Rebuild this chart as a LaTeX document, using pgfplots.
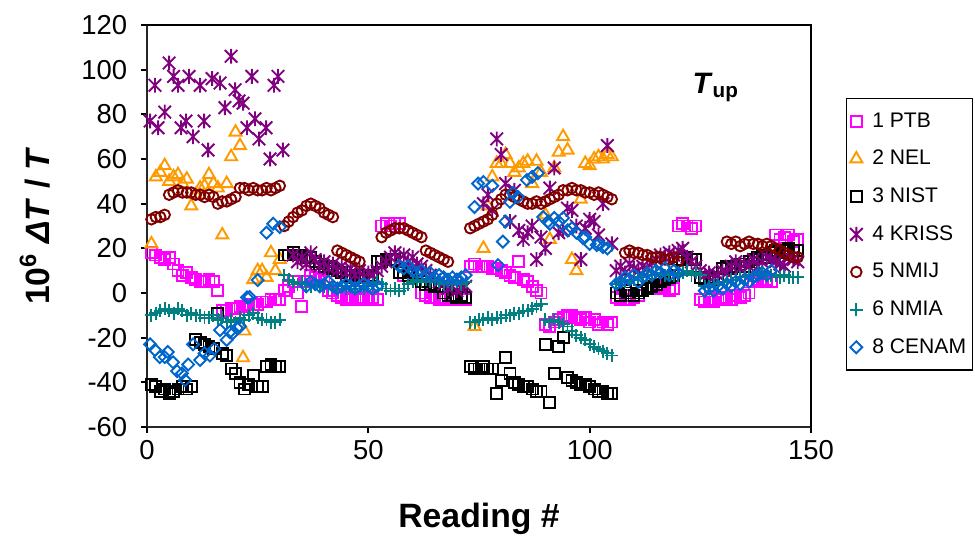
\documentclass[border=0pt]{standalone}
\usepackage{fontspec}
\setmainfont{Liberation Sans}
\usepackage{pgfplots}
\pgfplotsset{compat=1.18}
\definecolor{cPTB}{HTML}{FF00FF}
\definecolor{cNEL}{HTML}{FF9900}
\definecolor{cKRISS}{HTML}{800080}
\definecolor{cNMIJ}{HTML}{800000}
\definecolor{cNMIA}{HTML}{008080}
\definecolor{cCENAM}{HTML}{0066CC}
\pgfdeclareplotmark{kstar}{%
  \pgfpathmoveto{\pgfqpoint{0pt}{\pgfplotmarksize}}%
  \pgfpathlineto{\pgfqpoint{0pt}{-\pgfplotmarksize}}%
  \pgfpathmoveto{\pgfqpoint{-.85\pgfplotmarksize}{-.85\pgfplotmarksize}}%
  \pgfpathlineto{\pgfqpoint{.85\pgfplotmarksize}{.85\pgfplotmarksize}}%
  \pgfpathmoveto{\pgfqpoint{-.85\pgfplotmarksize}{.85\pgfplotmarksize}}%
  \pgfpathlineto{\pgfqpoint{.85\pgfplotmarksize}{-.85\pgfplotmarksize}}%
  \pgfusepathqstroke}
\begin{document}
\begin{tikzpicture}
\begin{axis}[
  scale only axis,
  width=11.0667cm, height=6.7cm,
  xmin=0, xmax=150, ymin=-60, ymax=120,
  xtick={0,50,100,150}, ytick={-60,-40,...,120},
  axis x line*=bottom, axis y line*=left,
  axis line style={line width=0.8pt, black!85, -},
  tick align=outside, major tick length=0.1cm,
  tick style={line width=0.8pt, black},
  /pgf/number format/assume math mode=true,
  ticklabel style={font=\fontsize{13}{15}\selectfont},
  yticklabel style={xshift=-3pt},
  xlabel={\textbf{Reading \#}},
  ylabel={\textbf{10\textsuperscript{6} \textit{ΔT} / \textit{T}}},
  label style={font=\fontsize{16}{18}\selectfont},
  xlabel style={at={(axis description cs:0.5,-0.228)}, anchor=center},
  ylabel style={at={(axis description cs:-0.169,0.5)}, anchor=center, rotate=0},
  clip=false,
  legend style={at={(1.0527,0.818)}, anchor=north west, draw=black, line width=0.6pt,
    font=\fontsize{10}{12}\selectfont, row sep=6.4pt, inner xsep=1.5pt, inner ysep=5pt,
    nodes={inner sep=1.5pt},
    /tikz/every odd column/.append style={column sep=3pt}},
  legend cell align=left,
  every axis plot/.append style={only marks, line width=0.9pt},
]
% 1 PTB
\addplot[mark=square, mark size=2.6pt, color=cPTB] coordinates {
(1,18)(2,17)(3,16)(4,15)(5,16)(6,13)(7,10)(8,8)(9,9)(10,7)(11,6)(12,5)(13,5)(14,6)(15,5)(16,1)
(17,-8)(18,-8)(19,-7)(20,-7)(21,-6)(22,-6)(23,-5)(24,-5)(25,-5)(26,-4)(27,-4)(28,-3)(29,-3)(30,-3)
(31,1)(32,3)(33,5)(34,0)(35,-6)(36,5)(37,8)(38,7)(39,6)(40,5)(41,1)(42,0)(43,-1)(44,-2)(45,-3)
(46,-2)(47,-3)(48,-3)(49,-2)(50,-3)(51,-2)(52,-3)(53,30)(54,31)(55,30)(56,31)(57,31)(58,8)(59,10)
(60,9)(61,8)(62,0)(63,-1)(64,-2)(65,-2)(66,-3)(67,-2)(68,-3)(69,-2)(70,-3)(71,-2)(72,-3)(73,12)(74,13)
(75,12)(76,12)(77,12)(78,11)(79,11)(80,10)(81,9)(82,8)(83,7)(84,14)(85,6)(86,5)(87,3)(88,1)(89,0)
(90,-14)(91,-15)(92,-13)(93,-12)(94,-11)(95,-10)(96,-10)(97,-11)(98,-12)(99,-11)(100,-13)(101,-12)
(102,-14)(103,-13)(104,-14)(105,-13)
(106,-2)(107,-3)(108,-1)(109,-3)(110,-2)(111,-1)(112,1)(113,2)(114,3)(115,2)(116,3)(117,2)(118,1)(119,2)
(120,30)(121,31)(122,30)(123,29)(124,30)(125,-3)(126,-4)(127,-3)(128,-4)(129,-2)(130,-3)(131,-2)
(132,-3)(133,-1)(134,-2)(135,-1)(136,0)(137,5)(138,6)(139,5)(140,6)(141,5)(142,26)(143,24)(144,25)
(145,26)(146,23)(147,24)
};
\addlegendentry{1 PTB}
% 2 NEL
\addplot[mark=triangle, mark size=3.3pt, color=cNEL] coordinates {
(1,22)(2,52)(3,54)(4,57)(5,50)(6,52)(7,53)(8,49)(9,51)(10,39)(11,44)(12,47)(13,48)(14,53)(15,49)
(16,47)(17,26)(18,49)(19,61)(20,72)(21,66)(22,-17)(21.7,-29)(24,6)(25,10)(26,10)(27,7)(28,18)(29,10)(30,15)
(74,-15)(76,20)(77,39)(78,52)(79,58)(80,58)(81,62)(82,58)(83,54)(84,56)(85,58)(86,59)(87,49)(88,59)
(89,54)(90,35)(91,24)(92,56)(93,63)(94,70)(95,64)(96,15)(97,10)(98,42)(99,58)(100,57)(101,60)
(102,61)(103,60)(104,62)(105,61)
};
\addlegendentry{2 NEL}
% 3 NIST
\addplot[mark=square, mark size=2.6pt, color=black] coordinates {
(1,-41)(2,-42)(3,-44)(4,-43)(5,-45)(6,-44)(7,-43)(8,-42)(9,-43)(10,-42)(11,-21)(12,-22)(13,-23)
(14,-24)(15,-25)(16,-9)(17,-27)(18,-28)(19,-34)(20,-36)(21,-40)(22,-43)(23,-41)(24,-37)(25,-42)
(26,-42)(27,-33)(28,-32)(29,-33)(30,-33)
(31,17)(32,17)(33,18)(34,17)(35,17)(36,16)(37,16)(38,14)(39,13)(40,12)(41,12)(42,11)(43,10)(44,9)
(45,8)(46,8)(47,7)(48,8)(49,8)(50,7)(51,8)(52,14)(53,14)(54,15)(55,15)(56,15)(57,9)(58,9)(59,8)
(60,9)(61,8)(62,5)(63,4)(64,4)(65,3)(66,3)(67,0)(68,-1)(69,-1)(70,-2)(71,-1)(72,-2)
(73,-33)(74,-34)(75,-34)(76,-33)(77,-34)(78,-34)(79,-45)(80,-39)(81,-29)(82,-36)(83,-40)(84,-41)
(85,-42)(86,-42)(87,-43)(88,-44)(89,-44)(90,-23)(91,-49)(92,-36)(93,-24)(94,-20)(95,-38)(96,-39)
(97,-40)(98,-41)(99,-41)(100,-42)(101,-43)(102,-44)(103,-44)(104,-45)(105,-45)
(106,0)(107,-1)(108,1)(109,0)(110,-1)(111,0)(112,1)(113,2)(114,3)(115,4)(116,5)(117,6)(118,7)
(119,8)(120,15)(121,15)(122,16)(123,15)(124,15)(125,7)(126,6)(127,7)(128,6)(129,7)(130,11)(131,12)
(132,11)(133,12)(134,13)(135,12)(136,14)(137,15)(138,16)(139,17)(140,16)(141,18)(142,19)(143,18)
(144,19)(145,20)(146,19)(147,19)
};
\addlegendentry{3 NIST}
% 4 KRISS
\addplot[mark=kstar, mark size=3.5pt, color=cKRISS] coordinates {
(0.7,77)(1.8,93)(2.5,74)(4,81)(5,103)(6,97)(7,93)(7.7,74)(8.8,77)(9.5,97)(10.4,70)(12,93)(12.9,77)
(13.8,64)(14.7,96)(16.5,94)(17.6,83)(19,106)(19.9,91)(20.8,86)(21.7,85)(22.6,74)(23.7,97)(24.4,78)
(25.3,69)(26.9,74)(27.8,60)(28.7,93)(29.6,97)(30.7,64)
(33,17)(34,14)(35,16)(36,13)(37,18)(38,15)(39,12)(40,14)(41,11)(42,13)(43,10)(44,12)(45,9)(46,11)
(47,8)(48,10)(49,7)(50,9)(51,8)(52,10)(53,12)(54,14)(55,16)(56,18)(57,15)(58,17)(59,14)(60,16)
(61,13)(62,12)(63,10)(64,8)(65,6)(66,5)(67,4)(68,2)(69,3)(70,1)(71,2)(72,3)
(76,40)(77,44)(78,37)(79,69)(80,62)(81,49)(82,32)(83,46)(84,28)(85,24)(86,27)(87,30)(88,15)(89,25)
(90,20)(91,47)(92,56)(93,27)(94,28)(95,38)(96,37)(97,30)(98,15)(99,29)(100,33)(101,32)(102,26)
(103,40)(104,66)(105,22)
(106,10)(107,12)(108,9)(109,13)(110,11)(111,10)(112,12)(113,11)(114,14)(115,15)(116,17)(117,16)
(118,18)(119,17)(120,19)(121,20)(122,16)(123,14)(124,12)(125,10)(126,8)(127,9)(128,7)(129,8)
(130,10)(131,9)(132,12)(133,14)(134,11)(135,13)(136,12)(137,15)(138,12)(139,14)(140,16)(141,15)
(142,14)(143,13)(144,12)(145,16)(146,15)(147,14)
};
\addlegendentry{4 KRISS}
% 5 NMIJ
\addplot[mark=o, mark size=2.5pt, color=cNMIJ] coordinates {
(1,33)(2,34)(3,34)(4,35)(5,44)(6,45)(7,46)(8,45)(9,45)(10,45)(11,44)(12,44)(13,43)(14,44)(15,43)
(16,40)(17,41)(18,41)(19,42)(20,43)(21,47)(22,47)(23,46)(24,47)(25,46)(26,46)(27,47)(28,46)(29,47)(30,48)
(31,30)(32,32)(33,34)(34,36)(35,37)(36,39)(37,40)(38,39)(39,38)(40,36)(41,35)(42,34)
(43,19)(44,18)(45,17)(46,16)(47,15)(48,14)
(53,25)(54,27)(55,28)(56,29)(57,29)(58,29)(59,28)(60,27)(61,26)(62,25)
(63,19)(64,18)(65,17)(66,16)(67,15)(68,14)
(73,29)(74,30)(75,31)(76,32)(77,33)(78,35)(79,40)(80,42)(81,44)(82,44)(83,43)(84,42)(85,41)(86,40)
(87,40)(88,41)(89,40)(90,41)(91,42)(92,43)(93,44)(94,46)(95,46)(96,47)(97,46)(98,46)(99,45)(100,45)
(101,44)(102,45)(103,44)(104,43)(105,42)
(108,18)(109,19)(110,18)(111,18)(112,17)(113,17)(114,16)(115,16)(116,16)(117,15)(118,15)(119,16)(120,14)
(131,23)(132,22)(133,23)(134,21)(135,22)(136,23)(137,22)(138,22)(139,21)(140,22)(141,21)(142,20)
(143,19)(144,18)(145,17)(146,16)(147,16)
};
\addlegendentry{5 NMIJ}
% 6 NMIA
\addplot[mark=+, mark size=3.1pt, color=cNMIA] coordinates {
(1,-10)(2,-9)(3,-8)(4,-7)(5,-8)(6,-9)(7,-7)(8,-8)(9,-10)(10,-9)(11,-10)(12,-10)(13,-11)(14,-11)
(15,-10)(16,-12)(17,-11)(18,-13)(19,-12)(20,-13)(21,-11)(22,-12)(23,-10)(24,-9)(25,-11)(26,-12)
(27,-12)(28,-13)(29,-13)(30,-12)
(31,8)(32,6)(33,5)(34,4)(35,5)(36,4)(37,3)(38,4)(39,3)(40,3)(41,2)(42,3)(43,2)(44,3)(45,2)(46,3)
(47,2)(48,3)(49,2)(50,3)(51,4)(52,5)(53,4)(54,2)(55,1)(56,2)(57,1)(58,2)(59,4)(60,5)(61,6)(62,5)
(63,6)(64,5)(65,6)(66,5)(67,4)(68,5)(69,4)(70,5)(71,4)(72,5)
(73,-13)(74,-13)(75,-12)(76,-12)(77,-11)(78,-12)(79,-11)(80,-11)(81,-10)(82,-10)(83,-9)(84,-9)
(85,-8)(86,-8)(87,-7)(88,-6)(89,-5)(90,-12)(91,-13)(92,-12)(93,-13)(94,-14)(95,-15)(96,-17)
(97,-19)(98,-20)(99,-21)(100,-23)(101,-24)(102,-25)(103,-26)(104,-27)(105,-28)
(106,4)(107,5)(108,5)(109,6)(110,6)(111,7)(112,7)(113,8)(114,8)(115,9)(116,9)(117,8)(118,9)(119,8)
(120,8)(121,9)(122,10)(123,8)(124,9)(125,8)(126,3)(127,3)(128,4)(129,4)(130,5)(131,5)(132,6)
(133,6)(134,7)(135,7)(136,8)(137,8)(138,9)(139,9)(140,8)(141,8)(142,8)(143,7)(144,8)(145,7)(146,7)(147,7)
};
\addlegendentry{6 NMIA}
% 8 CENAM
\addplot[mark=square, mark size=2pt, mark options={rotate=45}, color=cCENAM] coordinates {
(0.7,-23)(1.8,-25.5)(2.9,-28.7)(4,-28.7)(4.7,-26.4)(5.9,-31)(6.8,-35)(7.9,-36)(8.6,-39)(9.3,-32)
(10.4,-23)(12,-30)(13,-27)(14.2,-28)(15.2,-25)(16.5,-16.6)(18,-21)(18.7,-17.5)(19.4,-18)(20.3,-15.7)
(21,-15)(22.6,-2)(23.2,-1.8)(25,5.8)(27,27)(28.5,31)(30,29.5)
(36,3)(37,5)(38,4)(39,3)(40,4)(41,5)(42,3)(43,2)(44,3)(45,4)(46,3)(47,2)(48,3)(49,4)(50,3)(51,2)(52,3)
(57,12)(58,11)(59,12)(60,10)(61,9)(62,10)(63,8)(64,9)(65,7)(66,8)(67,7)(68,6)(69,7)(70,6)(71,7)(72,8)
(74,38.5)(74.8,49)(76,49.7)(78,48)(79.3,12.5)(80.4,23)(81,32)(82,40.8)(82.7,44.8)(83.8,43)(85.8,50.6)
(87,52)(88.3,53.7)(89.5,34)(90.6,32)(91,31)(92,33.6)(93,32)(94,33.6)(95,28)(96,29)(97,27)(98.5,24.6)
(99,25)(100,22)(101.6,21.5)(102,22)(103,20.6)(104,20)
(106,4)(107,5)(108,7)(109,6)(110,8)(111,5)(112,7)(113,9)(114,8)(115,10)(116,9)(117,11)(118,8)
(119,10)(120,9)(126,1)(127,2)(128,1)(129,3)(130,2)(131,4)(132,3)(133,5)(134,4)(135,6)(136,5)
(137,7)(138,8)(139,9)(140,8)(141,10)
};
\addlegendentry{8 CENAM}
\node[font=\fontsize{14}{16}\selectfont\bfseries] at (axis cs:128.5,92) {\textit{T}\textsubscript{up}};
\draw[line width=1.3pt] (rel axis cs:0,1) -- (rel axis cs:1,1) -- (rel axis cs:1,0);
\coordinate (sw) at (rel axis cs:0,0);
\coordinate (ne) at (rel axis cs:1,1);
\end{axis}
\pgfresetboundingbox
\path[use as bounding box] ([shift={(-2.45cm,-2.0833cm)}]sw) rectangle ([shift={(2.7333cm,0.41667cm)}]ne);
\end{tikzpicture}
\end{document}
